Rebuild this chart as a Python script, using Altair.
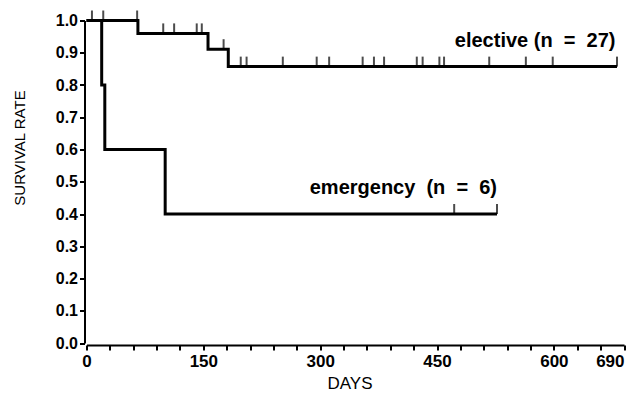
import altair as alt
import pandas as pd

# Kaplan-Meier step curves (days, survival rate)
elective_days = [0, 66, 156, 182, 681]
elective_surv = [1.0, 0.96, 0.911, 0.857, 0.857]
emergency_days = [0, 19.5, 23.5, 101, 527]
emergency_surv = [1.0, 0.8, 0.6, 0.4, 0.4]

# censored observations (days)
elective_censored = [7, 21.5, 65, 98.5, 112.5, 141.5, 148, 176, 198, 205.5, 252,
                     295.5, 311.5, 354.5, 369, 382, 424, 431.5, 453, 459, 517,
                     564, 598.5, 681]
emergency_censored = [472, 527]

groups = ["elective", "emergency"]
group_labels = ["elective (n\u00a0\u00a0=\u00a0\u00a027)", "emergency\u00a0\u00a0(n\u00a0\u00a0=\u00a0\u00a06)"]
x_label_values = [0, 150, 300, 450, 600, 690]
y_ticks = [0.0, 0.1, 0.2, 0.3, 0.4, 0.5, 0.6, 0.7, 0.8, 0.9, 1.0]


def level_at(days, surv, t):
    s = surv[0]
    for d, v in zip(days, surv):
        if d <= t:
            s = v
    return s


curve = pd.DataFrame(
    [{"group": groups[0], "day": d, "surv": s} for d, s in zip(elective_days, elective_surv)]
    + [{"group": groups[1], "day": d, "surv": s} for d, s in zip(emergency_days, emergency_surv)]
)
cens = pd.DataFrame(
    [{"group": groups[0], "day": t, "surv": level_at(elective_days, elective_surv, t)} for t in elective_censored]
    + [{"group": groups[1], "day": t, "surv": level_at(emergency_days, emergency_surv, t)} for t in emergency_censored]
)

FONT = "Liberation Sans"

x_scale = alt.Scale(domain=[0, 690], nice=False, zero=False)
y_scale = alt.Scale(domain=[0, 1], nice=False)

label_list = ",".join(str(v) for v in x_label_values)
last_label = x_label_values[-1]

x_axis = alt.Axis(
    values=list(range(0, 691, 30)), tickCount=100,
    labelExpr=f"indexof([{label_list}], datum.value) >= 0 ? datum.label : ''",
    labelAlign={"condition": {"test": f"datum.value == {last_label}", "value": "right"}, "value": "center"},
    labelOverlap=False, labelFlush=False, grid=False,
    tickSize=5, tickWidth=2, tickColor="black",
    domainWidth=2, domainColor="black", offset=2,
    labelFont=FONT, labelFontSize=17, labelFontWeight="bold", labelColor="black", labelPadding=3,
    title="DAYS", titleFont=FONT, titleFontSize=17, titleFontWeight="normal", titleColor="black",
    titleX=263, titleY=38, titleBaseline="middle", titleAlign="center",
)
y_axis = alt.Axis(
    values=y_ticks, tickCount=100, format=".1f", grid=False, labelOverlap=False,
    tickSize=5, tickWidth=2, tickColor="black",
    domainWidth=2, domainColor="black", offset=2,
    labelFont=FONT, labelFontSize=16, labelFontWeight="bold", labelColor="black", labelPadding=2,
    title="SURVIVAL RATE", titleFont=FONT, titleFontSize=15, titleFontWeight="normal", titleColor="#000000",
    titleAngle=-90, titleX=-65, titleY=127, titleBaseline="middle", titleAlign="center",
)

lines = alt.Chart(curve).mark_line(interpolate="step-after", color="black", strokeWidth=3).encode(
    x=alt.X("day:Q", scale=x_scale, axis=x_axis),
    y=alt.Y("surv:Q", scale=y_scale, axis=y_axis),
    detail="group:N",
)

ticks = alt.Chart(cens).mark_tick(orient="vertical", color="black", size=10, thickness=2, yOffset=-5).encode(
    x=alt.X("day:Q", scale=x_scale),
    y=alt.Y("surv:Q", scale=y_scale),
)

lab_el = alt.Chart().mark_text(align="right", baseline="alphabetic", font=FONT, fontSize=20,
                               fontWeight="bold", color="black").encode(
    x=alt.datum(679), y=alt.datum(0.919), text=alt.value(group_labels[0]))
lab_em = alt.Chart().mark_text(align="right", baseline="alphabetic", font=FONT, fontSize=20,
                               fontWeight="bold", color="black").encode(
    x=alt.datum(527), y=alt.datum(0.462), text=alt.value(group_labels[1]))

chart = alt.layer(lines, ticks, lab_el, lab_em).properties(
    width=537.5, height=322.5,
    autosize=alt.AutoSizeParams(type="none"),
    padding={"left": 78.5, "top": 12.5, "right": 7, "bottom": 49},
    background="white",
).configure_view(stroke=None)

chart.save("out.html", embed_options={"renderer": "svg", "actions": False})
